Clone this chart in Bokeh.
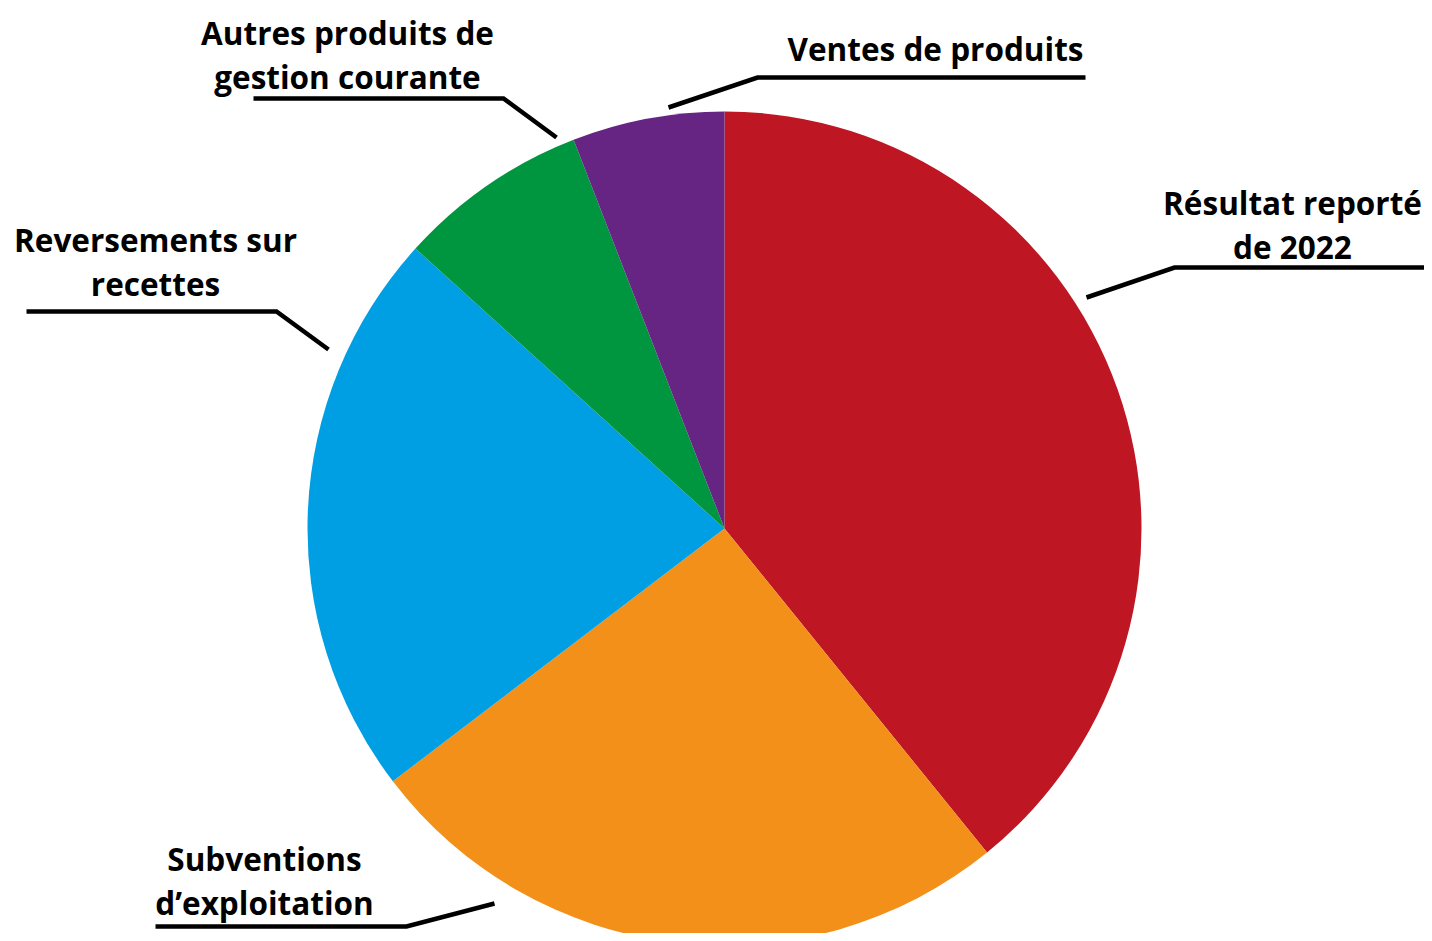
import numpy as np
from bokeh.plotting import figure
from bokeh.models import Range1d, ColumnDataSource
from bokeh.core.properties import value
from bokeh.embed import file_html
from bokeh.resources import INLINE

# ---- data ----
categories = ["Résultat reporté de 2022", "Subventions d’exploitation",
              "Reversements sur recettes", "Autres produits de gestion courante",
              "Ventes de produits"]
values = [39.2, 25.5, 22.1, 7.4, 5.9]
colors = ["#BE1622", "#F39019", "#009FE3", "#009640", "#662483"]

# ---- layout ----
W, H = 1424, 933


def sx(x):
    return x


def sy(y):
    return H - y


p = figure(width=W, height=H, output_backend="svg", toolbar_location=None,
           x_range=Range1d(0, W), y_range=Range1d(0, H), min_border=0)
p.axis.visible = False
p.grid.visible = False
p.outline_line_color = None
p.background_fill_color = "white"

vals = np.array(values, dtype=float)
frac = vals / vals.sum()
cum = np.concatenate([[0], np.cumsum(frac)])
start = np.pi / 2 - 2 * np.pi * cum[:-1]
end = np.pi / 2 - 2 * np.pi * cum[1:]

cx, cy, r = sx(724), sy(528), 417
src = ColumnDataSource(dict(start=start, end=end, color=colors, cat=categories))
p.wedge(x=cx, y=cy, radius=r, radius_units="screen", start_angle="start",
        end_angle="end", direction="clock", fill_color="color", line_color=None,
        source=src)

# label layout (text lines, centre x, line y's) and leader polylines
labels = {
    "Résultat reporté de 2022": (["Résultat reporté", "de 2022"], 1292, [202, 246],
                                 [(1086, 297), (1174, 267), (1424, 267)]),
    "Subventions d’exploitation": (["Subventions", "d’exploitation"], 264, [858, 902],
                                   [(494, 903), (406, 926), (155, 926)]),
    "Reversements sur recettes": (["Reversements sur", "recettes"], 155, [239, 283],
                                  [(328, 349), (276, 311), (26, 311)]),
    "Autres produits de gestion courante": (["Autres produits de", "gestion courante"], 347, [32, 76],
                                            [(556, 137), (503, 98), (253, 98)]),
    "Ventes de produits": (["Ventes de produits"], 935, [48],
                           [(668, 107), (757, 77), (1085, 77)]),
}

for cat in categories:
    lines, tx, tys, poly = labels[cat]
    p.line([sx(a) for a, b in poly], [sy(b) for a, b in poly],
           line_color="black", line_width=4.5, line_join="miter")
    p.text(x=[sx(tx)] * len(lines), y=[sy(t) for t in tys], text=lines,
           text_font=value("Open Sans"), text_font_style="bold",
           text_font_size="31.5px", text_align="center", text_baseline="middle",
           text_color="black")

open("out.html", "w").write(file_html(p, INLINE))
